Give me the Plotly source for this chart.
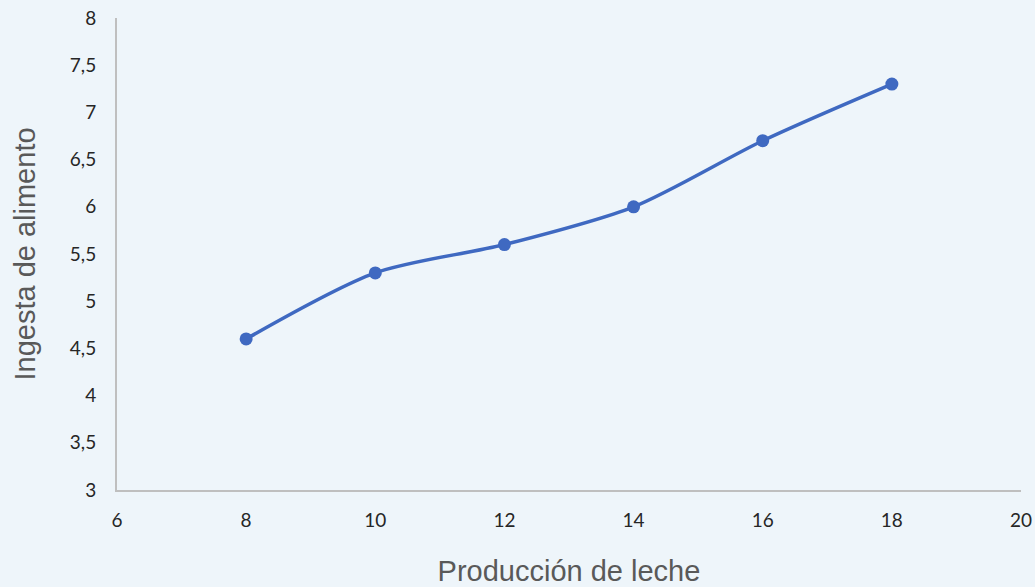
import plotly.graph_objects as go

produccion = [8, 10, 12, 14, 16, 18]
ingesta = [4.6, 5.3, 5.6, 6.0, 6.7, 7.3]

x_ticks = [6, 8, 10, 12, 14, 16, 18, 20]
y_ticks = [3, 3.5, 4, 4.5, 5, 5.5, 6, 6.5, 7, 7.5, 8]
y_tick_text = [str(v).replace(".", ",") for v in y_ticks]

bg = "#EEF5FA"
line_color = "#3F69C1"
title_font = dict(family="Liberation Sans, Arial, sans-serif", size=29, color="#595959")

fig = go.Figure(
    go.Scatter(
        x=produccion,
        y=ingesta,
        mode="lines+markers",
        line=dict(color=line_color, width=3.5, shape="spline", smoothing=0.8),
        marker=dict(color=line_color, size=13),
        cliponaxis=False,
    )
)

fig.update_layout(
    width=1035,
    height=587,
    paper_bgcolor=bg,
    plot_bgcolor=bg,
    margin=dict(l=117, r=14, t=18, b=97),
    showlegend=False,
    font=dict(family="Lato, Open Sans, sans-serif", color="#262626", size=19),
)

fig.update_xaxes(
    range=[6, 20],
    tickvals=x_ticks,
    ticktext=[str(v) for v in x_ticks],
    showgrid=False,
    zeroline=False,
    showline=True,
    linecolor="#BFBFBF",
    linewidth=2,
    ticks="",
    ticklabelstandoff=12,
    automargin=False,
    title=dict(text="Producción de leche", font=title_font, standoff=36),
)

fig.update_yaxes(
    range=[3, 8],
    tickvals=y_ticks,
    ticktext=y_tick_text,
    showgrid=False,
    zeroline=False,
    showline=True,
    linecolor="#BFBFBF",
    linewidth=2,
    ticks="",
    ticklabelstandoff=15,
    automargin=False,
    title=dict(text="Ingesta de alimento", font=title_font, standoff=26),
)

fig.write_html("out.html")
